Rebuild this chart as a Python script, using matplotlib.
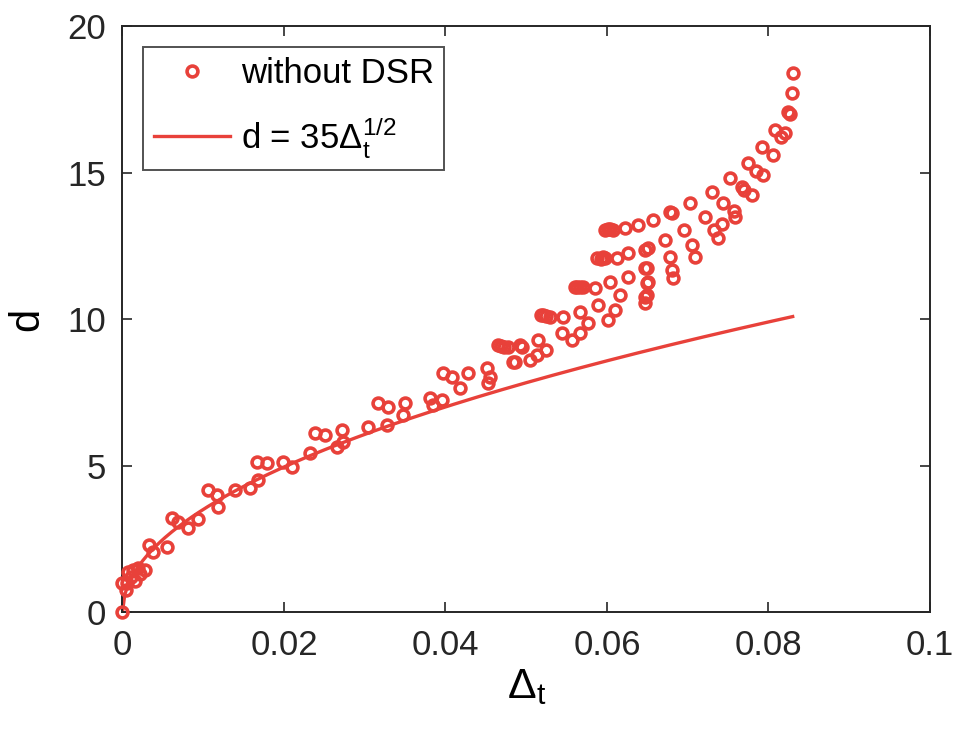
import matplotlib
matplotlib.use('Agg')
import matplotlib.pyplot as plt
import numpy as np

plt.rcParams['font.family'] = ['Liberation Sans', 'DejaVu Sans']
plt.rcParams['mathtext.fontset'] = 'custom'
plt.rcParams['mathtext.rm'] = 'Liberation Sans'
plt.rcParams['mathtext.it'] = 'Liberation Sans'
plt.rcParams['mathtext.bf'] = 'Liberation Sans:bold'

# scattered points (delta_t, d)
dt_pts = [
    0.0, 0.0, 0.0006, 0.0007, 0.0013, 0.0019, 0.0028, 0.0033, 0.0038, 0.0055,
    0.0061, 0.0069, 0.0081, 0.0093, 0.0106, 0.0117, 0.0118, 0.0139, 0.0158, 0.0168,
    0.0167, 0.0179, 0.0199, 0.0210, 0.0232, 0.0238, 0.0251, 0.0266, 0.0272, 0.0273,
    0.0304, 0.0316, 0.0329, 0.0328, 0.0350, 0.0347, 0.0381, 0.0385, 0.0396, 0.0397,
    0.0408, 0.0418, 0.0428, 0.0451, 0.0455, 0.0453, 0.0465, 0.0478, 0.0492, 0.0486,
    0.0505, 0.0515, 0.0513, 0.0484, 0.0495, 0.0525, 0.0521, 0.0530, 0.0546, 0.0544,
    0.0557, 0.0567, 0.0567, 0.0577, 0.0563, 0.0570, 0.0585, 0.0589, 0.0604, 0.0601,
    0.0610, 0.0616, 0.0588, 0.0598, 0.0612, 0.0626, 0.0626, 0.0647, 0.0647, 0.0651,
    0.0647, 0.0647, 0.0598, 0.0608, 0.0622, 0.0638, 0.0657, 0.0678, 0.0672, 0.0678,
    0.0680, 0.0682, 0.0830, 0.0829, 0.0824, 0.0820, 0.0808, 0.0806, 0.0792, 0.0793,
    0.0775, 0.0780, 0.0767, 0.0752, 0.0744, 0.0759, 0.0730, 0.0721, 0.0732, 0.0738,
    0.0703, 0.0695, 0.0705, 0.0709, 0.0681, 0.0651, 0.0649, 0.0649, 0.0649,
    0.0004, 0.0010, 0.0015, 0.0022, 0.0518, 0.0524, 0.0560, 0.0566, 0.0592, 0.0595,
    0.0601, 0.0604, 0.0469, 0.0472, 0.0785, 0.0770, 0.0757, 0.0742, 0.0827, 0.0815,
]
d_pts = [
    0.0, 1.00, 0.99, 1.37, 1.43, 1.50, 1.43, 2.29, 2.05, 2.22,
    3.20, 3.07, 2.87, 3.17, 4.16, 3.99, 3.58, 4.16, 4.23, 4.50,
    5.12, 5.08, 5.12, 4.95, 5.43, 6.10, 6.04, 5.63, 6.20, 5.80,
    6.30, 7.13, 7.00, 6.38, 7.13, 6.72, 7.30, 7.06, 7.24, 8.16,
    8.02, 7.65, 8.16, 8.33, 8.02, 7.82, 9.11, 9.04, 9.11, 8.53,
    8.60, 9.28, 8.77, 8.53, 9.04, 8.94, 10.14, 10.07, 10.07, 9.52,
    9.28, 10.24, 9.52, 9.86, 11.09, 11.09, 11.06, 10.48, 11.26, 9.97,
    10.31, 10.82, 12.08, 12.08, 12.08, 12.25, 11.43, 12.35, 11.74, 11.26,
    10.75, 10.55, 13.04, 13.04, 13.11, 13.21, 13.38, 13.65, 12.70, 12.12,
    11.67, 11.40, 18.40, 17.71, 17.06, 16.35, 16.45, 15.60, 15.87, 14.91,
    15.32, 14.23, 14.50, 14.81, 13.96, 13.48, 14.33, 13.48, 13.04, 12.76,
    13.96, 13.04, 12.53, 12.12, 13.62, 12.42, 11.74, 11.23, 10.82,
    0.75, 1.20, 1.05, 1.30, 10.12, 10.10, 11.08, 11.10, 12.06, 12.10,
    13.08, 13.06, 9.08, 9.06, 15.05, 14.40, 13.70, 13.25, 17.00, 16.20,
]

# fit curve d = 35 * dt^(1/2)
dt_fit = np.linspace(0, 0.083, 300)
d_fit = 35 * np.sqrt(dt_fit)

red = '#E8413A'

fig = plt.figure(figsize=(9.6, 7.43), dpi=100)
ax = fig.add_axes([0.1276, 0.1763, 0.8411, 0.7887])

ax.plot(dt_pts, d_pts, 'o', mfc='none', mec=red, ms=7.8, mew=2.6,
        label='without DSR', clip_on=False, zorder=3)
ax.plot(dt_fit, d_fit, '-', color=red, lw=2.4,
        label=r'd = 35$\Delta_t^{1/2}$')

ax.set_xlim(0, 0.1)
ax.set_ylim(0, 20)
ax.set_xticks([0, 0.02, 0.04, 0.06, 0.08, 0.1])
ax.set_xticklabels(['0', '0.02', '0.04', '0.06', '0.08', '0.1'])
ax.set_yticks([0, 5, 10, 15, 20])
ax.tick_params(direction='in', top=True, right=True, length=7, width=1.2,
               labelsize=25, pad=12, colors='#262626')
for s in ax.spines.values():
    s.set_linewidth(1.4)
    s.set_color('#262626')

ax.set_xlabel(r'$\Delta_t$', fontsize=31, labelpad=4)
ax.set_ylabel('d', fontsize=30, labelpad=14)

leg = ax.legend(loc='upper left', fontsize=25, frameon=True, fancybox=False,
                edgecolor='#262626', borderaxespad=0.6, handlelength=2.2,
                handletextpad=0.3, borderpad=0.3, labelspacing=0.7)
leg.get_frame().set_linewidth(1.4)

fig.savefig('out.png', dpi=100)
